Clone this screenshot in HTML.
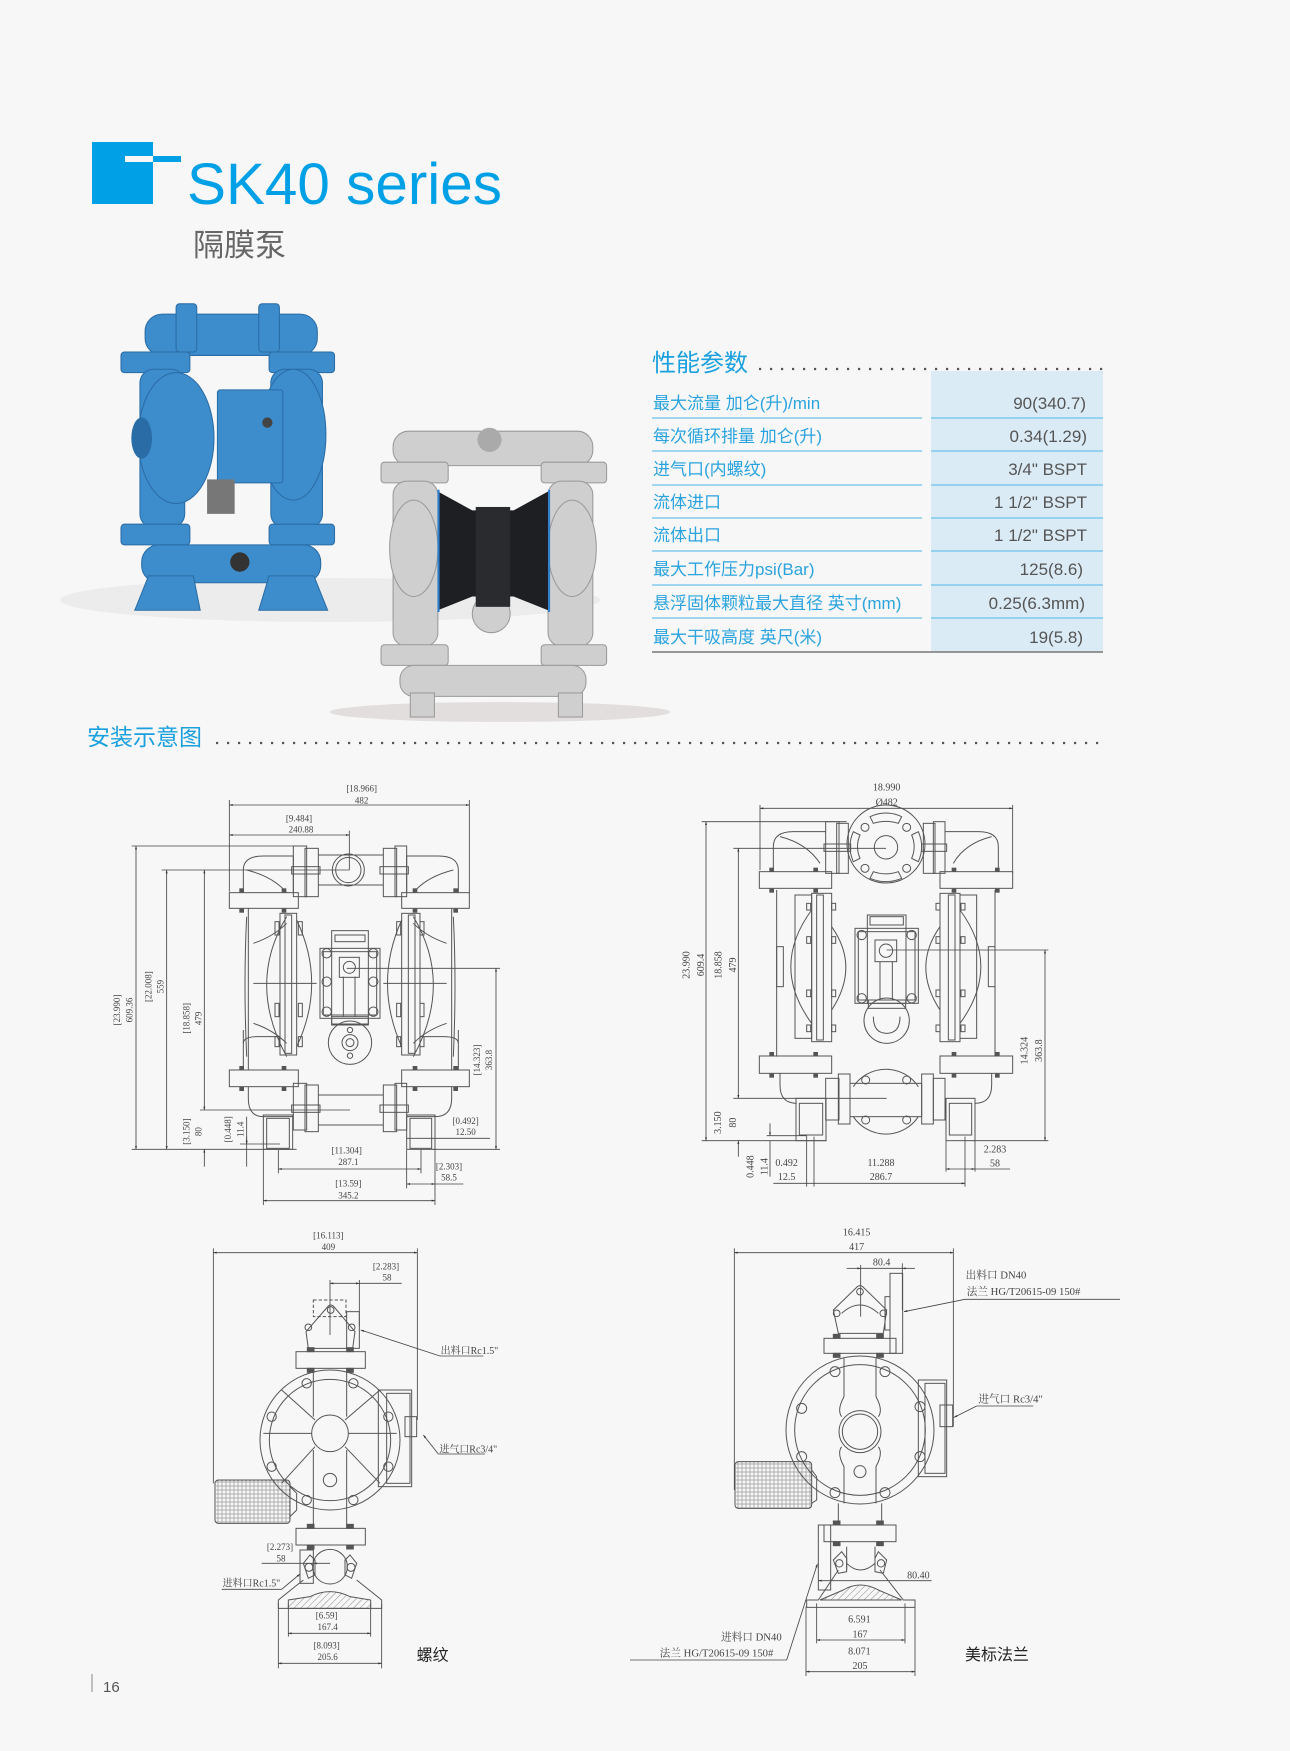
<!DOCTYPE html>
<html><head><meta charset="utf-8"><style>
html,body{margin:0;padding:0;background:#f7f7f7;}
svg{display:block}
.t{font-family:"Liberation Serif","Noto Serif CJK SC",serif;fill:#444;}
.s{font-family:"Liberation Sans","Noto Sans CJK SC",sans-serif;}
</style></head><body>
<svg width="1290" height="1751" viewBox="0 0 1290 1751" xmlns="http://www.w3.org/2000/svg">
<defs>
<pattern id="hx" width="12" height="12" patternUnits="userSpaceOnUse"><circle cx="6" cy="6" r="3.5" fill="none" stroke="#555" stroke-width="1.5"/></pattern>
<marker id="ar" viewBox="0 0 10 10" refX="10" refY="5" markerWidth="14" markerHeight="10" markerUnits="userSpaceOnUse" orient="auto-start-reverse"><path d="M0,2 L10,5 L0,8 z" fill="#333"/></marker>
<pattern id="hatch" width="14" height="14" patternUnits="userSpaceOnUse" patternTransform="rotate(45)"><line x1="0" y1="0" x2="0" y2="14" stroke="#555" stroke-width="2"/></pattern>
</defs>
<rect width="1290" height="1751" fill="#f7f7f7"/>

<!-- header -->
<rect x="92" y="142" width="61" height="62" fill="#00a0e6"/>
<rect x="125" y="156" width="56" height="6" fill="#00a0e6"/>
<rect x="125" y="156" width="28" height="6" fill="#f7f7f7"/>
<text x="187" y="204" class="s" font-size="58" fill="#00a0e6" textLength="315" lengthAdjust="spacingAndGlyphs">SK40 series</text>
<text x="193" y="256" class="s" font-size="31" fill="#666">隔膜泵</text>

<!-- photos -->
<ellipse cx="330" cy="600" rx="270" ry="22" fill="#ececec"/>
<ellipse cx="500" cy="712" rx="170" ry="10" fill="#e3dede"/>
<g transform="translate(90,290) scale(0.3444)">
 <g fill="#3d8ccc" stroke="#2a6ca5" stroke-width="3">
  <rect x="160" y="70" width="500" height="120" rx="50"/>
  <rect x="250" y="40" width="60" height="140" rx="10"/>
  <rect x="490" y="40" width="60" height="140" rx="10"/>
  <rect x="90" y="180" width="200" height="60" rx="10"/>
  <rect x="520" y="180" width="190" height="60" rx="10"/>
  <rect x="145" y="230" width="130" height="460" rx="40"/>
  <rect x="525" y="230" width="150" height="460" rx="40"/>
  <ellipse cx="250" cy="430" rx="110" ry="190"/>
  <ellipse cx="590" cy="420" rx="95" ry="190"/>
  <rect x="370" y="290" width="190" height="270" rx="8"/>
  <rect x="90" y="680" width="200" height="60" rx="10"/>
  <rect x="520" y="680" width="190" height="60" rx="10"/>
  <rect x="150" y="740" width="520" height="110" rx="50"/>
  <path d="M130,930 L170,830 L300,830 L320,930 Z"/>
  <path d="M490,930 L520,830 L650,830 L690,930 Z"/>
 </g>
 <ellipse cx="150" cy="430" rx="30" ry="60" fill="#2a6ca5"/>
 <rect x="340" y="550" width="80" height="100" fill="#777"/>
 <circle cx="435" cy="790" r="28" fill="#333"/>
 <circle cx="515" cy="385" r="15" fill="#444"/>
 <g fill="#cfcfcf" stroke="#999" stroke-width="3">
  <rect x="880" y="410" width="580" height="100" rx="45"/>
  <rect x="845" y="500" width="195" height="60" rx="10"/>
  <rect x="1310" y="500" width="190" height="60" rx="10"/>
  <rect x="880" y="555" width="130" height="480" rx="40"/>
  <rect x="1330" y="555" width="130" height="480" rx="40"/>
  <ellipse cx="940" cy="750" rx="70" ry="140"/>
  <ellipse cx="1400" cy="750" rx="70" ry="140"/>
  <rect x="845" y="1030" width="195" height="60" rx="10"/>
  <rect x="1310" y="1030" width="190" height="60" rx="10"/>
  <rect x="900" y="1090" width="540" height="90" rx="40"/>
  <rect x="930" y="1170" width="70" height="70"/>
  <rect x="1360" y="1170" width="70" height="70"/>
  <circle cx="1165" cy="940" r="55"/>
 </g>
 <circle cx="1160" cy="435" r="35" fill="#aaa"/>
 <path d="M1010,585 L1110,640 L1230,640 L1330,585 L1330,930 L1230,890 L1110,890 L1010,930 Z" fill="#1e1f22"/>
 <rect x="1120" y="630" width="100" height="290" fill="#2a2b2f"/>
 <line x1="1012" y1="580" x2="1012" y2="935" stroke="#2f7fd0" stroke-width="6"/>
 <line x1="1333" y1="580" x2="1333" y2="935" stroke="#2f7fd0" stroke-width="6"/>
</g>

<!-- table -->
<text x="652" y="371" class="s" font-size="24" fill="#1aa0de">性能参数</text>
<line x1="759" y1="369" x2="1104" y2="369" stroke="#555" stroke-width="2.2" stroke-dasharray="2.2 8.8"/>
<rect x="931" y="371" width="172" height="281" fill="#dbebf5"/>
<g stroke="#6cc3ec" stroke-width="1.3">
 <line x1="652" y1="418" x2="922" y2="418"/><line x1="931" y1="418" x2="1103" y2="418"/>
 <line x1="652" y1="451" x2="922" y2="451"/><line x1="931" y1="451" x2="1103" y2="451"/>
 <line x1="652" y1="485" x2="922" y2="485"/><line x1="931" y1="485" x2="1103" y2="485"/>
 <line x1="652" y1="518" x2="922" y2="518"/><line x1="931" y1="518" x2="1103" y2="518"/>
 <line x1="652" y1="551" x2="922" y2="551"/><line x1="931" y1="551" x2="1103" y2="551"/>
 <line x1="652" y1="585" x2="922" y2="585"/><line x1="931" y1="585" x2="1103" y2="585"/>
 <line x1="652" y1="618" x2="922" y2="618"/><line x1="931" y1="618" x2="1103" y2="618"/>
</g>
<line x1="652" y1="652" x2="1103" y2="652" stroke="#777" stroke-width="1.5"/>
<g class="s" font-size="17" fill="#2aa3de">
 <text x="653" y="409">最大流量 加仑(升)/min</text>
 <text x="653" y="442">每次循环排量 加仑(升)</text>
 <text x="653" y="475">进气口(内螺纹)</text>
 <text x="653" y="508">流体进口</text>
 <text x="653" y="541">流体出口</text>
 <text x="653" y="575">最大工作压力psi(Bar)</text>
 <text x="653" y="609">悬浮固体颗粒最大直径 英寸(mm)</text>
 <text x="653" y="643">最大干吸高度 英尺(米)</text>
</g>
<g class="s" font-size="17" fill="#555" text-anchor="end">
 <text x="1086" y="409">90(340.7)</text>
 <text x="1087" y="442">0.34(1.29)</text>
 <text x="1087" y="475">3/4"  BSPT</text>
 <text x="1087" y="508">1  1/2"  BSPT</text>
 <text x="1087" y="541">1  1/2"  BSPT</text>
 <text x="1083" y="575">125(8.6)</text>
 <text x="1085" y="609">0.25(6.3mm)</text>
 <text x="1083" y="643">19(5.8)</text>
</g>

<text x="87" y="745" class="s" font-size="23" fill="#1aa0de">安装示意图</text>
<line x1="216" y1="743" x2="1105" y2="743" stroke="#555" stroke-width="2.2" stroke-dasharray="2.2 8.8"/>

<!-- Drawing 1 -->
<g transform="translate(100,770) scale(0.33333)" fill="none" stroke="#555" stroke-width="3">
 <g class="t" font-size="27" stroke="none" fill="#444" text-anchor="middle">
  <text x="785" y="65">[18.966]</text><text x="785" y="100">482</text>
  <text x="597" y="155">[9.484]</text><text x="603" y="188">240.88</text>
  <text x="740" y="1150">[11.304]</text><text x="745" y="1185">287.1</text>
  <text x="1047" y="1198">[2.303]</text><text x="1047" y="1232">58.5</text>
  <text x="745" y="1250">[13.59]</text><text x="745" y="1285">345.2</text>
  <text x="1097" y="1062">[0.492]</text><text x="1097" y="1095">12.50</text>
  <text transform="translate(60,720) rotate(-90)">[23.990]</text><text transform="translate(97,720) rotate(-90)">609.36</text>
  <text transform="translate(155,650) rotate(-90)">[22.008]</text><text transform="translate(190,650) rotate(-90)">559</text>
  <text transform="translate(268,745) rotate(-90)">[18.858]</text><text transform="translate(305,745) rotate(-90)">479</text>
  <text transform="translate(268,1085) rotate(-90)">[3.150]</text><text transform="translate(305,1085) rotate(-90)">80</text>
  <text transform="translate(393,1078) rotate(-90)">[0.448]</text><text transform="translate(430,1078) rotate(-90)">11.4</text>
  <text transform="translate(1140,870) rotate(-90)">[14.323]</text><text transform="translate(1176,870) rotate(-90)">363.8</text>
 </g>
 <g stroke="#444" stroke-width="2.5">
  <line x1="388" y1="105" x2="1108" y2="105" marker-start="url(#ar)" marker-end="url(#ar)"/>
  <line x1="388" y1="90" x2="388" y2="365"/><line x1="1108" y1="90" x2="1108" y2="370"/>
  <line x1="388" y1="195" x2="748" y2="195" marker-start="url(#ar)" marker-end="url(#ar)"/>
  <line x1="748" y1="182" x2="748" y2="300"/>
  <line x1="108" y1="228" x2="108" y2="1138" marker-start="url(#ar)" marker-end="url(#ar)"/>
  <line x1="95" y1="228" x2="590" y2="228"/>
  <line x1="200" y1="300" x2="200" y2="1138" marker-start="url(#ar)" marker-end="url(#ar)"/>
  <line x1="185" y1="300" x2="748" y2="300"/>
  <line x1="313" y1="300" x2="313" y2="1020" marker-start="url(#ar)" marker-end="url(#ar)"/>
  <line x1="300" y1="1020" x2="750" y2="1020"/>
  <line x1="313" y1="1138" x2="313" y2="1190" marker-start="url(#ar)"/>
  <line x1="440" y1="1100" x2="440" y2="1190"/><line x1="440" y1="1040" x2="440" y2="1122" marker-end="url(#ar)"/>
  <line x1="95" y1="1138" x2="590" y2="1138"/>
  <line x1="420" y1="1122" x2="540" y2="1122"/>
  <line x1="1188" y1="595" x2="1188" y2="1138" marker-start="url(#ar)" marker-end="url(#ar)"/>
  <line x1="740" y1="595" x2="1200" y2="595"/><line x1="1000" y1="1138" x2="1200" y2="1138"/>
  <line x1="920" y1="1105" x2="1170" y2="1105"/>
  <line x1="535" y1="1197" x2="963" y2="1197" marker-start="url(#ar)" marker-end="url(#ar)"/>
  <line x1="535" y1="1140" x2="535" y2="1210"/><line x1="963" y1="1140" x2="963" y2="1210"/>
  <line x1="920" y1="1242" x2="1005" y2="1242" marker-start="url(#ar)" marker-end="url(#ar)"/>
  <line x1="1005" y1="1242" x2="1090" y2="1242"/>
  <line x1="920" y1="1140" x2="920" y2="1255"/>
  <line x1="490" y1="1292" x2="1005" y2="1292" marker-start="url(#ar)" marker-end="url(#ar)"/>
  <line x1="490" y1="1138" x2="490" y2="1305"/><line x1="1005" y1="1138" x2="1005" y2="1305"/>
 </g>
 <path d="M430,368 L430,300 Q430,258 490,258 L580,258 L580,368"/>
 <path d="M1075,368 L1075,300 Q1075,258 1015,258 L920,258 L920,368"/>
 <path d="M440,300 Q520,320 560,368 M1060,300 Q980,320 940,368"/>
 <rect x="388" y="368" width="207" height="47"/><rect x="905" y="368" width="203" height="47"/>
 <rect x="580" y="228" width="40" height="152"/><rect x="615" y="235" width="40" height="145"/>
 <rect x="850" y="235" width="40" height="145"/><rect x="885" y="228" width="35" height="152"/>
 <line x1="655" y1="255" x2="850" y2="255"/><line x1="655" y1="345" x2="850" y2="345"/>
 <circle cx="745" cy="300" r="48"/><circle cx="745" cy="300" r="38"/>
 <rect x="575" y="290" width="85" height="22"/><rect x="840" y="290" width="85" height="22"/>
 <path d="M445,415 L445,900 M1055,415 L1055,900"/>
 <path d="M440,440 Q430,640 440,860 M1060,440 Q1070,640 1060,860"/>
 <path d="M560,440 Q440,640 560,860 M940,440 Q1060,640 940,860"/>
 <path d="M460,520 Q520,500 560,460 M460,760 Q520,780 560,820 M1040,520 Q980,500 940,460 M1040,760 Q980,780 940,820"/>
 <line x1="460" y1="640" x2="650" y2="640"/><line x1="850" y1="640" x2="1040" y2="640"/>
 <rect x="540" y="430" width="50" height="425"/><rect x="555" y="435" width="20" height="415"/>
 <rect x="905" y="430" width="55" height="425"/><rect x="925" y="435" width="20" height="415"/>
 <path d="M590,450 Q680,640 590,830 M905,450 Q820,640 905,830"/>
 <rect x="525" y="455" width="12" height="40"/><rect x="525" y="700" width="12" height="40"/><rect x="525" y="800" width="12" height="30"/>
 <rect x="595" y="455" width="12" height="40"/><rect x="595" y="700" width="12" height="40"/><rect x="595" y="800" width="12" height="30"/>
 <rect x="890" y="455" width="12" height="40"/><rect x="890" y="700" width="12" height="40"/><rect x="890" y="800" width="12" height="30"/>
 <rect x="960" y="455" width="12" height="40"/><rect x="960" y="700" width="12" height="40"/><rect x="960" y="800" width="12" height="30"/>
 <rect x="660" y="535" width="180" height="210"/><rect x="670" y="545" width="160" height="190"/>
 <rect x="695" y="482" width="110" height="280"/><rect x="705" y="495" width="90" height="20"/>
 <rect x="718" y="562" width="60" height="60"/><circle cx="748" cy="592" r="18"/>
 <path d="M730,620 L730,740 M765,620 L765,740"/>
 <circle cx="680" cy="550" r="14"/><circle cx="820" cy="550" r="14"/><circle cx="680" cy="635" r="14"/><circle cx="820" cy="635" r="14"/><circle cx="680" cy="725" r="14"/><circle cx="820" cy="725" r="14"/>
 <rect x="695" y="740" width="110" height="25"/>
 <circle cx="750" cy="818" r="65"/><circle cx="750" cy="818" r="24"/><circle cx="750" cy="818" r="12"/>
 <circle cx="750" cy="780" r="8"/><circle cx="750" cy="857" r="8"/>
 <path d="M430,820 Q430,800 470,800 L530,800 M1075,820 Q1075,800 1030,800 L970,800"/>
 <path d="M430,780 L430,900 M1075,780 L1075,900"/>
 <rect x="388" y="900" width="207" height="50"/><rect x="905" y="900" width="203" height="50"/>
 <path d="M445,950 L445,985 Q445,1040 490,1040 L580,1040 M1055,950 L1055,985 Q1055,1040 1005,1040 L920,1040"/>
 <rect x="580" y="940" width="40" height="140"/><rect x="615" y="945" width="40" height="140"/>
 <rect x="850" y="945" width="40" height="140"/><rect x="885" y="940" width="35" height="140"/>
 <line x1="655" y1="975" x2="850" y2="975"/><line x1="655" y1="1065" x2="850" y2="1065"/>
 <rect x="575" y="1005" width="85" height="22"/><rect x="840" y="1005" width="85" height="22"/>
 <rect x="490" y="1035" width="88" height="103"/><rect x="500" y="1045" width="68" height="90"/>
 <rect x="920" y="1035" width="85" height="103"/><rect x="930" y="1045" width="65" height="90"/>
 <g fill="#555" stroke="none">
  <rect x="418" y="355" width="14" height="12"/><rect x="545" y="355" width="14" height="12"/><rect x="938" y="355" width="14" height="12"/><rect x="1060" y="355" width="14" height="12"/>
  <rect x="418" y="416" width="14" height="12"/><rect x="545" y="416" width="14" height="12"/><rect x="938" y="416" width="14" height="12"/><rect x="1060" y="416" width="14" height="12"/>
  <rect x="418" y="888" width="14" height="12"/><rect x="545" y="888" width="14" height="12"/><rect x="938" y="888" width="14" height="12"/><rect x="1060" y="888" width="14" height="12"/>
  <rect x="418" y="951" width="14" height="12"/><rect x="545" y="951" width="14" height="12"/><rect x="938" y="951" width="14" height="12"/><rect x="1060" y="951" width="14" height="12"/>
 </g>
</g>

<!-- Drawing 2 -->
<g transform="translate(660,770) scale(0.33333)" fill="none" stroke="#555" stroke-width="3">
 <g class="t" font-size="30" stroke="none" fill="#444" text-anchor="middle">
  <text x="680" y="62">18.990</text><text x="680" y="106">Ø482</text>
  <text transform="translate(88,585) rotate(-90)">23.990</text><text transform="translate(132,585) rotate(-90)">609.4</text>
  <text transform="translate(185,585) rotate(-90)">18.858</text><text transform="translate(228,585) rotate(-90)">479</text>
  <text transform="translate(183,1058) rotate(-90)">3.150</text><text transform="translate(228,1058) rotate(-90)">80</text>
  <text transform="translate(280,1190) rotate(-90)">0.448</text><text transform="translate(322,1190) rotate(-90)">11.4</text>
  <text transform="translate(1102,842) rotate(-90)">14.324</text><text transform="translate(1146,842) rotate(-90)">363.8</text>
  <text x="380" y="1188">0.492</text><text x="380" y="1230">12.5</text>
  <text x="663" y="1188">11.288</text><text x="663" y="1230">286.7</text>
  <text x="1005" y="1148">2.283</text><text x="1005" y="1190">58</text>
 </g>
 <g stroke="#444" stroke-width="2.5">
  <line x1="300" y1="115" x2="1058" y2="115" marker-start="url(#ar)" marker-end="url(#ar)"/>
  <line x1="300" y1="105" x2="300" y2="300"/><line x1="1058" y1="105" x2="1058" y2="310"/>
  <line x1="138" y1="155" x2="138" y2="1112" marker-start="url(#ar)" marker-end="url(#ar)"/>
  <line x1="125" y1="155" x2="560" y2="155"/><line x1="125" y1="1112" x2="500" y2="1112"/>
  <line x1="235" y1="235" x2="235" y2="985" marker-start="url(#ar)" marker-end="url(#ar)"/>
  <line x1="220" y1="235" x2="678" y2="235"/><line x1="220" y1="985" x2="680" y2="985"/>
  <line x1="235" y1="1112" x2="235" y2="1160" marker-start="url(#ar)"/>
  <line x1="330" y1="1060" x2="330" y2="1097" marker-end="url(#ar)"/><line x1="330" y1="1112" x2="330" y2="1220"/>
  <line x1="320" y1="1097" x2="440" y2="1097"/>
  <line x1="440" y1="1097" x2="440" y2="1250"/><line x1="462" y1="1100" x2="462" y2="1250"/>
  <line x1="340" y1="1240" x2="915" y2="1240" marker-end="url(#ar)"/>
  <line x1="915" y1="1100" x2="915" y2="1250"/>
  <line x1="858" y1="1100" x2="858" y2="1205"/><line x1="945" y1="1100" x2="945" y2="1205"/>
  <line x1="858" y1="1197" x2="945" y2="1197" marker-start="url(#ar)" marker-end="url(#ar)"/>
  <line x1="945" y1="1197" x2="1050" y2="1197"/>
  <line x1="1155" y1="540" x2="1155" y2="1112" marker-start="url(#ar)" marker-end="url(#ar)"/>
  <line x1="680" y1="540" x2="1165" y2="540"/><line x1="940" y1="1112" x2="1165" y2="1112"/>
 </g>
 <path d="M340,305 L340,230 Q340,185 400,185 L497,185 M1015,305 L1015,230 Q1015,185 955,185 L855,185"/>
 <path d="M360,200 Q440,220 480,280 M995,200 Q915,220 880,280"/>
 <rect x="298" y="305" width="217" height="50"/><rect x="840" y="305" width="218" height="50"/>
 <rect x="497" y="155" width="40" height="155"/><rect x="530" y="160" width="35" height="150"/>
 <rect x="790" y="160" width="35" height="150"/><rect x="820" y="155" width="35" height="155"/>
 <rect x="492" y="222" width="80" height="22"/><rect x="785" y="222" width="75" height="22"/>
 <circle cx="678" cy="222" r="117"/><circle cx="678" cy="232" r="35"/>
 <circle cx="615" cy="172" r="12"/><circle cx="740" cy="172" r="12"/><circle cx="615" cy="295" r="12"/><circle cx="740" cy="295" r="12"/>
 <path d="M630,140 Q678,118 725,140 L715,160 Q678,148 640,160 Z M630,325 Q678,345 725,325 L715,305 Q678,318 640,305 Z"/>
 <path d="M580,185 Q560,230 580,275 L600,265 Q585,230 600,195 Z M775,185 Q795,230 775,275 L755,265 Q770,230 755,195 Z"/>
 <path d="M350,360 L350,860 M1005,360 L1005,860"/>
 <rect x="405" y="375" width="50" height="430"/>
 <rect x="455" y="370" width="60" height="445"/><rect x="470" y="375" width="20" height="435"/>
 <rect x="840" y="370" width="60" height="445"/><rect x="865" y="375" width="20" height="435"/>
 <rect x="900" y="375" width="50" height="430"/>
 <path d="M455,420 Q330,590 455,760 M900,420 Q1025,590 900,760 M515,470 Q600,590 515,720 M840,470 Q755,590 840,720"/>
 <rect x="350" y="530" width="20" height="120"/><rect x="985" y="530" width="20" height="120"/>
 <rect x="440" y="400" width="12" height="20"/><rect x="440" y="500" width="12" height="20"/><rect x="440" y="660" width="12" height="20"/><rect x="440" y="765" width="12" height="20"/>
 <rect x="515" y="400" width="12" height="20"/><rect x="515" y="500" width="12" height="20"/><rect x="515" y="660" width="12" height="20"/><rect x="515" y="765" width="12" height="20"/>
 <rect x="828" y="400" width="12" height="20"/><rect x="828" y="500" width="12" height="20"/><rect x="828" y="660" width="12" height="20"/><rect x="828" y="765" width="12" height="20"/>
 <rect x="903" y="400" width="12" height="20"/><rect x="903" y="500" width="12" height="20"/><rect x="903" y="660" width="12" height="20"/><rect x="903" y="765" width="12" height="20"/>
 <rect x="585" y="475" width="190" height="225"/><rect x="595" y="485" width="170" height="205"/>
 <rect x="622" y="435" width="116" height="265"/><rect x="630" y="440" width="100" height="25"/>
 <rect x="645" y="510" width="65" height="65"/><circle cx="678" cy="542" r="20"/>
 <path d="M660,575 L660,690 M697,575 L697,690"/>
 <circle cx="605" cy="495" r="14"/><circle cx="755" cy="495" r="14"/><circle cx="605" cy="685" r="14"/><circle cx="755" cy="685" r="14"/>
 <rect x="625" y="690" width="112" height="25"/>
 <circle cx="680" cy="752" r="68"/><path d="M640,740 Q640,790 680,790 Q720,790 720,740"/>
 <rect x="298" y="858" width="217" height="52"/><rect x="840" y="858" width="218" height="52"/>
 <path d="M360,910 L360,945 Q360,1000 410,1000 M995,910 L995,945 Q995,1000 945,1000"/>
 <path d="M580,950 A117,117 0 0 1 775,950 M580,1040 A117,117 0 0 0 775,1040"/>
 <rect x="570" y="940" width="215" height="100"/>
 <rect x="497" y="925" width="40" height="125"/><rect x="535" y="912" width="35" height="150"/>
 <rect x="785" y="912" width="35" height="150"/><rect x="820" y="925" width="35" height="125"/>
 <circle cx="617" cy="930" r="12"/><circle cx="740" cy="930" r="12"/><circle cx="617" cy="1050" r="12"/><circle cx="740" cy="1050" r="12"/>
 <rect x="408" y="985" width="90" height="127"/><rect x="418" y="1000" width="70" height="95"/>
 <rect x="858" y="985" width="87" height="127"/><rect x="868" y="1000" width="67" height="95"/>
 <g fill="#555" stroke="none">
  <rect x="328" y="293" width="14" height="12"/><rect x="460" y="293" width="14" height="12"/><rect x="875" y="293" width="14" height="12"/><rect x="1005" y="293" width="14" height="12"/>
  <rect x="328" y="356" width="14" height="12"/><rect x="460" y="356" width="14" height="12"/><rect x="875" y="356" width="14" height="12"/><rect x="1005" y="356" width="14" height="12"/>
  <rect x="328" y="846" width="14" height="12"/><rect x="460" y="846" width="14" height="12"/><rect x="875" y="846" width="14" height="12"/><rect x="1005" y="846" width="14" height="12"/>
  <rect x="328" y="911" width="14" height="12"/><rect x="460" y="911" width="14" height="12"/><rect x="875" y="911" width="14" height="12"/><rect x="1005" y="911" width="14" height="12"/>
 </g>
</g>

<!-- Drawing 3 -->
<g transform="translate(200,1220) scale(0.33333)" fill="none" stroke="#555" stroke-width="3">
 <g class="t" font-size="27" stroke="none" fill="#444" text-anchor="middle">
  <text x="385" y="55">[16.113]</text><text x="385" y="90">409</text>
  <text x="558" y="148">[2.283]</text><text x="561" y="182">58</text>
  <text x="240" y="990">[2.273]</text><text x="243" y="1024">58</text>
  <text x="380" y="1196">[6.59]</text><text x="383" y="1230">167.4</text>
  <text x="380" y="1286">[8.093]</text><text x="383" y="1320">205.6</text>
 </g>
 <g class="t" font-size="30" stroke="none" fill="#444">
  <text x="722" y="402">出料口Rc1.5"</text>
  <text x="718" y="697">进气口Rc3/4"</text>
  <text x="68" y="1100">进料口Rc1.5"</text>
 </g>
 <text x="650" y="1322" class="s" font-size="48" stroke="none" fill="#222">螺纹</text>
 <g stroke="#444" stroke-width="2.5">
  <line x1="40" y1="98" x2="652" y2="98" marker-start="url(#ar)" marker-end="url(#ar)"/>
  <line x1="40" y1="85" x2="40" y2="790"/><line x1="652" y1="85" x2="652" y2="600"/>
  <line x1="390" y1="190" x2="478" y2="190" marker-start="url(#ar)" marker-end="url(#ar)"/>
  <line x1="478" y1="190" x2="605" y2="190"/>
  <line x1="390" y1="180" x2="390" y2="345"/><line x1="478" y1="180" x2="478" y2="320"/>
  <line x1="720" y1="408" x2="850" y2="408"/><line x1="720" y1="408" x2="482" y2="330" marker-end="url(#ar)"/>
  <line x1="715" y1="702" x2="855" y2="702"/><line x1="715" y1="702" x2="670" y2="645" marker-end="url(#ar)"/>
  <line x1="65" y1="1108" x2="245" y2="1108"/><line x1="245" y1="1108" x2="300" y2="1062" marker-end="url(#ar)"/>
  <line x1="185" y1="1030" x2="340" y2="1030"/>
  <line x1="340" y1="1030" x2="390" y2="1030" marker-start="url(#ar)"/>
  <line x1="265" y1="1240" x2="512" y2="1240" marker-start="url(#ar)" marker-end="url(#ar)"/>
  <line x1="265" y1="1150" x2="265" y2="1250"/><line x1="512" y1="1150" x2="512" y2="1250"/>
  <line x1="235" y1="1330" x2="545" y2="1330" marker-start="url(#ar)" marker-end="url(#ar)"/>
  <line x1="235" y1="1150" x2="235" y2="1345"/><line x1="545" y1="1150" x2="545" y2="1345"/>
 </g>
 <rect x="340" y="240" width="98" height="50" stroke-dasharray="10 6"/>
 <path d="M318,335 L385,258 Q392,252 400,258 L465,335 L458,385 L325,385 Z"/>
 <circle cx="392" cy="270" r="10"/><circle cx="325" cy="322" r="10"/><circle cx="455" cy="322" r="10"/>
 <rect x="440" y="275" width="38" height="110"/>
 <rect x="288" y="395" width="208" height="50"/>
 <rect x="322" y="383" width="20" height="12" fill="#555"/><rect x="440" y="383" width="20" height="12" fill="#555"/>
 <rect x="322" y="445" width="20" height="12" fill="#555"/><rect x="440" y="445" width="20" height="12" fill="#555"/>
 <circle cx="390" cy="660" r="210"/><circle cx="390" cy="660" r="182"/><circle cx="390" cy="640" r="55"/>
 <path d="M340,445 L340,590 M440,445 L440,590 M340,690 L340,870 M440,690 L440,870"/>
 <path d="M345,600 L245,510 M435,600 L540,510 M345,680 L245,790 M435,680 L540,790 M335,640 L190,640 M445,640 L590,640"/>
 <g>
  <circle cx="320" cy="490" r="14"/><circle cx="460" cy="490" r="14"/><circle cx="215" cy="590" r="14"/><circle cx="565" cy="590" r="14"/>
  <circle cx="215" cy="740" r="14"/><circle cx="565" cy="740" r="14"/><circle cx="320" cy="840" r="14"/><circle cx="460" cy="840" r="14"/>
 </g>
 <circle cx="390" cy="780" r="20"/>
 <rect x="535" y="510" width="100" height="290"/><rect x="560" y="520" width="70" height="270"/>
 <rect x="615" y="590" width="35" height="60"/>
 <rect x="45" y="780" width="225" height="130" rx="10" fill="url(#hx)"/>
 <path d="M270,800 L290,820 L290,870 L270,890"/>
 <rect x="288" y="925" width="208" height="50"/>
 <rect x="322" y="913" width="20" height="12" fill="#555"/><rect x="440" y="913" width="20" height="12" fill="#555"/>
 <rect x="322" y="975" width="20" height="12" fill="#555"/><rect x="440" y="975" width="20" height="12" fill="#555"/>
 <path d="M340,870 L340,925 M440,870 L440,925"/>
 <circle cx="390" cy="1040" r="52"/>
 <path d="M310,1030 L330,1005 L345,1020 L345,1065 L325,1075 Z M470,1030 L450,1005 L435,1020 L435,1065 L455,1075 Z"/>
 <circle cx="327" cy="1042" r="12"/><circle cx="453" cy="1042" r="12"/>
 <rect x="300" y="990" width="40" height="100"/>
 <path d="M310,1080 L235,1140 L235,1165 L545,1165 L545,1140 L470,1080"/>
 <path d="M265,1140 L330,1130 Q390,1100 450,1130 L512,1140 L512,1165 L265,1165 Z" fill="url(#hatch)"/>
</g>

<!-- Drawing 4 -->
<g transform="translate(620,1210) scale(0.33333)" fill="none" stroke="#555" stroke-width="3">
 <g class="t" font-size="30" stroke="none" fill="#444" text-anchor="middle">
  <text x="710" y="76">16.415</text><text x="710" y="120">417</text>
  <text x="785" y="167">80.4</text>
  <text x="895" y="1105">80.40</text>
  <text x="718" y="1237">6.591</text><text x="720" y="1282">167</text>
  <text x="718" y="1333">8.071</text><text x="720" y="1377">205</text>
 </g>
 <g class="t" font-size="32" stroke="none" fill="#444">
  <text x="1037" y="205">出料口 DN40</text>
  <text x="1040" y="255">法兰 HG/T20615-09 150#</text>
  <text x="1075" y="578">进气口 Rc3/4"</text>
  <text x="485" y="1292" text-anchor="end">进料口 DN40</text>
  <text x="460" y="1340" text-anchor="end">法兰 HG/T20615-09 150#</text>
 </g>
 <text x="1035" y="1350" class="s" font-size="48" stroke="none" fill="#222">美标法兰</text>
 <g stroke="#444" stroke-width="2.5">
  <line x1="343" y1="128" x2="1000" y2="128" marker-start="url(#ar)" marker-end="url(#ar)"/>
  <line x1="343" y1="115" x2="343" y2="840"/><line x1="1000" y1="115" x2="1000" y2="650"/>
  <line x1="680" y1="175" x2="722" y2="175" marker-end="url(#ar)"/><line x1="885" y1="175" x2="847" y2="175" marker-end="url(#ar)"/>
  <line x1="722" y1="175" x2="847" y2="175"/>
  <line x1="722" y1="165" x2="722" y2="320"/><line x1="847" y1="160" x2="847" y2="300"/>
  <line x1="1035" y1="268" x2="1500" y2="268"/><line x1="1035" y1="268" x2="852" y2="305" marker-end="url(#ar)"/>
  <line x1="1070" y1="588" x2="1240" y2="588"/><line x1="1070" y1="588" x2="1002" y2="622" marker-end="url(#ar)"/>
  <line x1="30" y1="1350" x2="500" y2="1350"/><line x1="500" y1="1350" x2="592" y2="1062" marker-end="url(#ar)"/>
  <line x1="595" y1="1112" x2="720" y2="1112" marker-start="url(#ar)"/><line x1="720" y1="1112" x2="935" y2="1112"/>
  <line x1="590" y1="1290" x2="855" y2="1290" marker-start="url(#ar)" marker-end="url(#ar)"/>
  <line x1="590" y1="1180" x2="590" y2="1300"/><line x1="855" y1="1180" x2="855" y2="1300"/>
  <line x1="558" y1="1385" x2="885" y2="1385" marker-start="url(#ar)" marker-end="url(#ar)"/>
  <line x1="558" y1="1190" x2="558" y2="1398"/><line x1="885" y1="1190" x2="885" y2="1398"/>
 </g>
 <path d="M640,300 L712,230 Q720,224 728,230 L800,300 L790,370 L655,370 Z"/>
 <circle cx="720" cy="245" r="10"/><circle cx="650" cy="310" r="10"/><circle cx="790" cy="310" r="10"/>
 <path d="M665,310 Q720,260 775,310"/>
 <rect x="810" y="190" width="38" height="240"/><rect x="795" y="260" width="15" height="100"/>
 <rect x="612" y="385" width="216" height="45"/>
 <rect x="640" y="373" width="20" height="12" fill="#555"/><rect x="770" y="373" width="20" height="12" fill="#555"/>
 <rect x="640" y="430" width="20" height="12" fill="#555"/><rect x="770" y="430" width="20" height="12" fill="#555"/>
 <circle cx="720" cy="660" r="222"/><circle cx="720" cy="660" r="196"/>
 <circle cx="720" cy="665" r="63"/><circle cx="720" cy="665" r="53"/>
 <path d="M672,445 L672,560 Q650,600 665,620 M768,445 L768,560 Q790,600 775,620 M672,880 L672,770 Q650,730 665,710 M768,880 L768,770 Q790,730 775,710"/>
 <circle cx="720" cy="785" r="18"/>
 <g>
  <circle cx="645" cy="485" r="15"/><circle cx="795" cy="485" r="15"/><circle cx="545" cy="595" r="15"/><circle cx="900" cy="590" r="15"/>
  <circle cx="545" cy="740" r="15"/><circle cx="900" cy="740" r="15"/><circle cx="645" cy="848" r="15"/><circle cx="795" cy="848" r="15"/>
 </g>
 <rect x="895" y="510" width="85" height="290"/><rect x="915" y="520" width="60" height="270"/>
 <rect x="960" y="585" width="38" height="65"/>
 <rect x="345" y="755" width="230" height="140" rx="10" fill="url(#hx)"/>
 <path d="M575,780 L590,800 L590,870 L575,880"/>
 <path d="M655,880 L655,945 M785,880 L785,945"/>
 <rect x="612" y="945" width="216" height="50"/>
 <rect x="640" y="933" width="20" height="12" fill="#555"/><rect x="770" y="933" width="20" height="12" fill="#555"/>
 <rect x="640" y="995" width="20" height="12" fill="#555"/><rect x="770" y="995" width="20" height="12" fill="#555"/>
 <rect x="595" y="945" width="37" height="195"/>
 <path d="M680,1010 L680,1080 M765,1010 L765,1080 M680,1060 Q720,1100 765,1060"/>
 <path d="M640,1050 L665,1025 L680,1045 L680,1085 L655,1090 Z M800,1050 L775,1025 L765,1045 L765,1085 L790,1090 Z"/>
 <circle cx="658" cy="1060" r="11"/><circle cx="783" cy="1060" r="11"/>
 <path d="M655,1080 L595,1170 L560,1170 L560,1192 L885,1192 L885,1170 L850,1170 L780,1080"/>
 <path d="M600,1170 L670,1140 Q720,1110 775,1140 L845,1170 Z" fill="url(#hatch)"/>
</g>

<!-- page number -->
<line x1="92" y1="1674" x2="92" y2="1692" stroke="#888" stroke-width="1"/>
<text x="103" y="1692" class="s" font-size="15" fill="#555">16</text>
</svg>
</body></html>
